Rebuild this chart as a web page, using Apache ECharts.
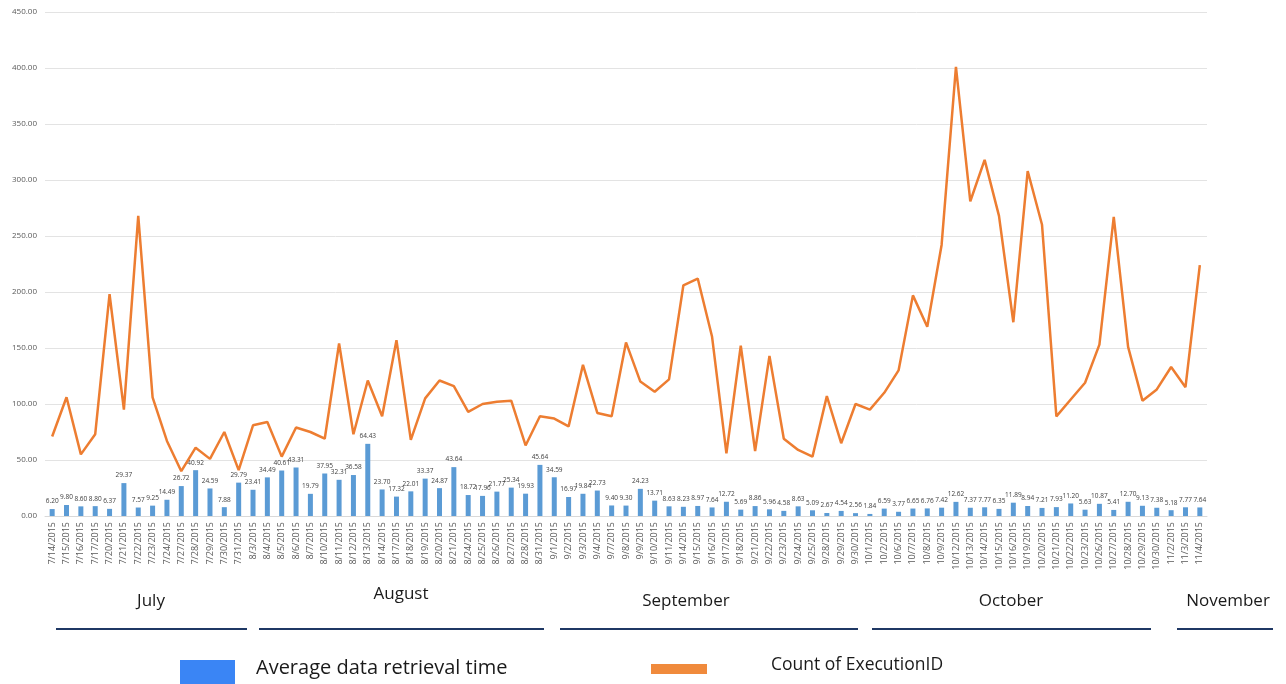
<!DOCTYPE html>
<html>
<head>
<meta charset="utf-8">
<title>Data retrieval time and execution count</title>
<script src="https://cdn.jsdelivr.net/npm/echarts@6/dist/echarts.min.js"></script>
<style>
  html, body { margin: 0; padding: 0; background: #ffffff; }
  #chart { width: 1286px; height: 684px; }
</style>
</head>
<body>
<div id="chart"></div>
<script>
// Working days covered by the report
const categories = [
  '7/14/2015','7/15/2015','7/16/2015','7/17/2015','7/20/2015','7/21/2015','7/22/2015','7/23/2015','7/24/2015',
  '7/27/2015','7/28/2015','7/29/2015','7/30/2015','7/31/2015',
  '8/3/2015','8/4/2015','8/5/2015','8/6/2015','8/7/2015','8/10/2015','8/11/2015','8/12/2015','8/13/2015','8/14/2015',
  '8/17/2015','8/18/2015','8/19/2015','8/20/2015','8/21/2015','8/24/2015','8/25/2015','8/26/2015','8/27/2015','8/28/2015',
  '8/31/2015','9/1/2015','9/2/2015','9/3/2015','9/4/2015','9/7/2015','9/8/2015','9/9/2015','9/10/2015','9/11/2015',
  '9/14/2015','9/15/2015','9/16/2015','9/17/2015','9/18/2015','9/21/2015','9/22/2015','9/23/2015','9/24/2015','9/25/2015',
  '9/28/2015','9/29/2015','9/30/2015','10/1/2015','10/2/2015','10/6/2015','10/7/2015','10/8/2015','10/9/2015',
  '10/12/2015','10/13/2015','10/14/2015','10/15/2015','10/16/2015','10/19/2015','10/20/2015','10/21/2015','10/22/2015',
  '10/23/2015','10/26/2015','10/27/2015','10/28/2015','10/29/2015','10/30/2015','11/2/2015','11/3/2015','11/4/2015'
];

// Average data retrieval time per day
const avgRetrievalTime = [
  6.20, 9.80, 8.60, 8.80, 6.37, 29.37, 7.57, 9.25, 14.49,
  26.72, 40.92, 24.59, 7.88, 29.79,
  23.41, 34.49, 40.61, 43.31, 19.79, 37.95, 32.31, 36.58, 64.43, 23.70,
  17.32, 22.01, 33.37, 24.87, 43.64, 18.72, 17.96, 21.77, 25.34, 19.93,
  45.64, 34.59, 16.97, 19.84, 22.73, 9.40, 9.30, 24.23, 13.71, 8.63,
  8.23, 8.97, 7.64, 12.72, 5.69, 8.86, 5.96, 4.58, 8.63, 5.09,
  2.67, 4.54, 2.56, 1.84, 6.59, 3.77, 6.65, 6.76, 7.42,
  12.62, 7.37, 7.77, 6.35, 11.89, 8.94, 7.21, 7.93, 11.20,
  5.63, 10.87, 5.41, 12.70, 9.13, 7.38, 5.18, 7.77, 7.64
];

// Count of ExecutionID per day
const executionCount = [
  71, 106, 55, 73, 198, 95, 268, 106, 67,
  40, 61, 51, 75, 41,
  81, 84, 53, 79, 75, 69, 154, 73, 121, 89,
  157, 68, 105, 121, 116, 93, 100, 102, 103, 63,
  89, 87, 80, 135, 92, 89, 155, 120, 111, 122,
  206, 212, 160, 56, 152, 58, 143, 69, 59, 53,
  107, 65, 100, 95, 110, 130, 197, 169, 242,
  401, 281, 318, 268, 173, 308, 260, 89, 104,
  119, 153, 267, 151, 103, 113, 133, 115, 224
];

const monthNames = ['July', 'August', 'September', 'October', 'November'];

const seriesNames = ['Average data retrieval time', 'Count of ExecutionID'];

const BAR_COLOR = '#5B9BD5';
const LINE_COLOR = '#ED7D31';
const FONT = '"Open Sans", "Noto Sans", sans-serif';

// Month captions and the rules beneath them
const monthCaptionX = [151, 401, 686, 1011, 1228];
const monthCaptionY = [601, 594, 601, 601, 601];
const monthRules = [[56, 247], [259, 544], [560, 858], [872, 1151], [1177, 1273]];

const graphics = [];
monthNames.forEach(function (name, i) {
  graphics.push({
    type: 'text',
    x: monthCaptionX[i],
    y: monthCaptionY[i],
    style: {
      text: name,
      fill: '#1a1a1a',
      font: '17px ' + FONT,
      textAlign: 'center',
      textVerticalAlign: 'middle'
    }
  });
});
monthRules.forEach(function (r) {
  graphics.push({
    type: 'line',
    shape: { x1: r[0], y1: 629, x2: r[1], y2: 629 },
    style: { stroke: '#1F3864', lineWidth: 2 }
  });
});

// Legend keys drawn as swatches with captions
const legendKeys = [
  { rect: [180, 660, 55, 24], color: '#3A85F5', textX: 256, textY: 668, size: 20 },
  { rect: [651, 664, 56, 10], color: '#F08A3C', textX: 771, textY: 665, size: 17.5 }
];
legendKeys.forEach(function (k, i) {
  graphics.push({
    type: 'rect',
    shape: { x: k.rect[0], y: k.rect[1], width: k.rect[2], height: k.rect[3] },
    style: { fill: k.color }
  });
  graphics.push({
    type: 'text',
    x: k.textX,
    y: k.textY,
    style: {
      text: seriesNames[i],
      fill: '#1a1a1a',
      font: k.size + 'px ' + FONT,
      textAlign: 'left',
      textVerticalAlign: 'middle'
    }
  });
});

const chart = echarts.init(document.getElementById('chart'), null, { renderer: 'canvas' });

chart.setOption({
  backgroundColor: '#ffffff',
  animation: false,
  textStyle: { fontFamily: FONT },
  grid: { left: 45, right: 79, top: 12, bottom: 168, containLabel: false },
  xAxis: {
    type: 'category',
    data: categories,
    boundaryGap: true,
    axisLine: { show: true, lineStyle: { color: '#d9d9d9' } },
    axisTick: { show: false },
    axisLabel: {
      interval: 0,
      rotate: 90,
      fontSize: 9,
      color: '#595959',
      margin: 6,
      fontFamily: FONT
    }
  },
  yAxis: {
    type: 'value',
    min: 0,
    max: 450,
    interval: 50,
    axisLine: { show: false },
    axisTick: { show: false },
    axisLabel: {
      fontSize: 8,
      color: '#595959',
      margin: 8,
      fontFamily: FONT,
      formatter: function (v) { return v.toFixed(2); }
    },
    splitLine: { lineStyle: { color: '#e3e3e3', width: 1 } }
  },
  series: [
    {
      name: seriesNames[0],
      type: 'bar',
      data: avgRetrievalTime,
      barWidth: 5,
      itemStyle: { color: BAR_COLOR },
      label: {
        show: true,
        position: 'top',
        distance: 4,
        fontSize: 6.5,
        color: '#404040',
        fontFamily: FONT,
        formatter: function (p) { return p.value.toFixed(2); }
      },
      z: 2
    },
    {
      name: seriesNames[1],
      type: 'line',
      data: executionCount,
      showSymbol: false,
      symbol: 'none',
      lineStyle: { color: LINE_COLOR, width: 2.5 },
      itemStyle: { color: LINE_COLOR },
      z: 3
    }
  ],
  graphic: graphics
});
</script>
</body>
</html>
